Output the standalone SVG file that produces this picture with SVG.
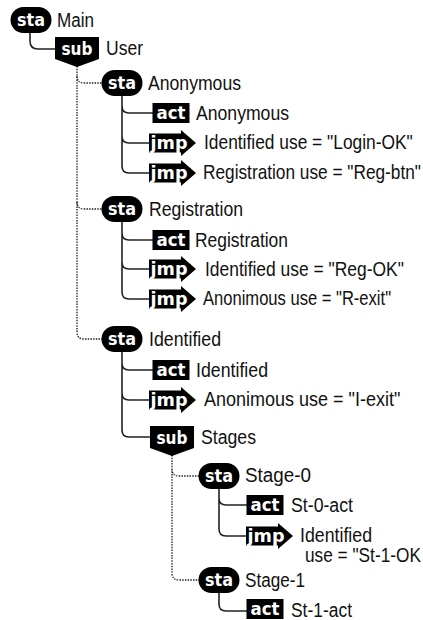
<svg xmlns="http://www.w3.org/2000/svg" width="423" height="620" viewBox="0 0 423 620">
<style>
text{font-family:"Liberation Sans",Arial,sans-serif}
.l{font-size:20px;fill:#111}
.t{font-size:17px;font-weight:700;fill:#fff;text-anchor:middle;font-family:"DejaVu Sans",sans-serif}
.s{fill:none;stroke:#222;stroke-width:1.6}
.d{fill:none;stroke:#222;stroke-width:1.3;stroke-dasharray:1.5 1.2}
</style>
<defs>
<rect id="sta" x="-20.5" y="-13" width="41" height="26" rx="13" fill="#000"/>
<path id="sub" d="M-22-17H22V5L0 13L-22 5Z" fill="#000"/>
<rect id="act" x="-18.5" y="-10" width="37" height="20" fill="#000"/>
<path id="jmp" d="M-23-9.500H9V-13L24 0L9 13V9.500H-23Z" fill="#000"/>
</defs>
<g id="connectors">
<path class="s" d="M30 32V41Q30 49 38 49H56"/>
<path class="d" d="M77 66V332Q77 339 84 339H102"/>
<path class="d" d="M77 76Q77 83 84 83H102"/>
<path class="d" d="M77 202Q77 209 84 209H102"/>
<path class="s" d="M122 95V166Q122 173 129 173H150M122 106Q122 113 129 113H153M122 136Q122 143 129 143H150"/>
<path class="s" d="M122 221V292Q122 299 129 299H150M122 233Q122 240 129 240H153M122 262Q122 269 129 269H150"/>
<path class="s" d="M122 351V430Q122 437 129 437H151M122 363Q122 370 129 370H153M122 393Q122 400 129 400H150"/>
<path class="d" d="M172 455V573Q172 580 179 580H199M172 469Q172 476 179 476H199"/>
<path class="s" d="M219 488V529Q219 536 226 536H248M219 498Q219 505 226 505H248"/>
<path class="s" d="M219 592V604Q219 611 226 611H248"/>
</g>
<g id="n1"><use href="#sta" x="31" y="20"/><text class="t" x="31" y="26" textLength="28" lengthAdjust="spacingAndGlyphs">sta</text><text class="l" x="57" y="27" textLength="37" lengthAdjust="spacingAndGlyphs">Main</text></g>
<g id="n2"><use href="#sub" x="77" y="54"/><text class="t" x="77" y="55" textLength="31" lengthAdjust="spacingAndGlyphs">sub</text><text class="l" x="106" y="55" textLength="37" lengthAdjust="spacingAndGlyphs">User</text></g>
<g id="n3"><use href="#sta" x="122" y="83"/><text class="t" x="122" y="89" textLength="28" lengthAdjust="spacingAndGlyphs">sta</text><text class="l" x="148" y="90" textLength="93" lengthAdjust="spacingAndGlyphs">Anonymous</text></g>
<g id="n4"><use href="#act" x="171" y="113"/><text class="t" x="171" y="119" textLength="29" lengthAdjust="spacingAndGlyphs">act</text><text class="l" x="196" y="120" textLength="93" lengthAdjust="spacingAndGlyphs">Anonymous</text></g>
<g id="n5"><use href="#jmp" x="172" y="143"/><text class="t" x="169" y="149" textLength="37" lengthAdjust="spacingAndGlyphs">jmp</text><text class="l" transform="translate(204 149) scale(.869 1)">Identified use = "Login-OK"</text></g>
<g id="n6"><use href="#jmp" x="172" y="173"/><text class="t" x="169" y="179" textLength="37" lengthAdjust="spacingAndGlyphs">jmp</text><text class="l" transform="translate(203 179) scale(.863 1)">Registration use = "Reg-btn"</text></g>
<g id="n7"><use href="#sta" x="122" y="209"/><text class="t" x="122" y="215" textLength="28" lengthAdjust="spacingAndGlyphs">sta</text><text class="l" x="149" y="216" textLength="94" lengthAdjust="spacingAndGlyphs">Registration</text></g>
<g id="n8"><use href="#act" x="171" y="240"/><text class="t" x="171" y="246" textLength="29" lengthAdjust="spacingAndGlyphs">act</text><text class="l" x="195" y="247" textLength="93" lengthAdjust="spacingAndGlyphs">Registration</text></g>
<g id="n9"><use href="#jmp" x="172" y="269"/><text class="t" x="169" y="275" textLength="37" lengthAdjust="spacingAndGlyphs">jmp</text><text class="l" transform="translate(205 276) scale(.872 1)">Identified use = "Reg-OK"</text></g>
<g id="n10"><use href="#jmp" x="172" y="299"/><text class="t" x="169" y="305" textLength="37" lengthAdjust="spacingAndGlyphs">jmp</text><text class="l" transform="translate(203 305) scale(.828 1)">Anonimous use = "R-exit"</text></g>
<g id="n11"><use href="#sta" x="122" y="339"/><text class="t" x="122" y="345" textLength="28" lengthAdjust="spacingAndGlyphs">sta</text><text class="l" x="149" y="346" textLength="72" lengthAdjust="spacingAndGlyphs">Identified</text></g>
<g id="n12"><use href="#act" x="171" y="370"/><text class="t" x="171" y="376" textLength="29" lengthAdjust="spacingAndGlyphs">act</text><text class="l" x="196" y="377" textLength="72" lengthAdjust="spacingAndGlyphs">Identified</text></g>
<g id="n13"><use href="#jmp" x="172" y="400"/><text class="t" x="169" y="406" textLength="37" lengthAdjust="spacingAndGlyphs">jmp</text><text class="l" transform="translate(204 406) scale(.9 1)">Anonimous use = "I-exit"</text></g>
<g id="n14"><use href="#sub" x="172" y="443"/><text class="t" x="172" y="444" textLength="31" lengthAdjust="spacingAndGlyphs">sub</text><text class="l" x="201" y="444" textLength="55" lengthAdjust="spacingAndGlyphs">Stages</text></g>
<g id="n15"><use href="#sta" x="219" y="476"/><text class="t" x="219" y="482" textLength="28" lengthAdjust="spacingAndGlyphs">sta</text><text class="l" x="245" y="482" textLength="66" lengthAdjust="spacingAndGlyphs">Stage-0</text></g>
<g id="n16"><use href="#act" x="265" y="505"/><text class="t" x="265" y="511" textLength="29" lengthAdjust="spacingAndGlyphs">act</text><text class="l" x="291" y="512" textLength="62" lengthAdjust="spacingAndGlyphs">St-0-act</text></g>
<g id="n17"><use href="#jmp" x="269" y="536"/><text class="t" x="266" y="542" textLength="37" lengthAdjust="spacingAndGlyphs">jmp</text><text class="l" x="300" y="542" textLength="72" lengthAdjust="spacingAndGlyphs">Identified</text><text class="l" transform="translate(305 562) scale(.863 1)">use = "St-1-OK</text></g>
<g id="n18"><use href="#sta" x="219" y="580"/><text class="t" x="219" y="586" textLength="28" lengthAdjust="spacingAndGlyphs">sta</text><text class="l" x="245" y="587" textLength="60" lengthAdjust="spacingAndGlyphs">Stage-1</text></g>
<g id="n19"><use href="#act" x="265" y="609"/><text class="t" x="265" y="615" textLength="29" lengthAdjust="spacingAndGlyphs">act</text><text class="l" x="291" y="617" textLength="61" lengthAdjust="spacingAndGlyphs">St-1-act</text></g>
</svg>
